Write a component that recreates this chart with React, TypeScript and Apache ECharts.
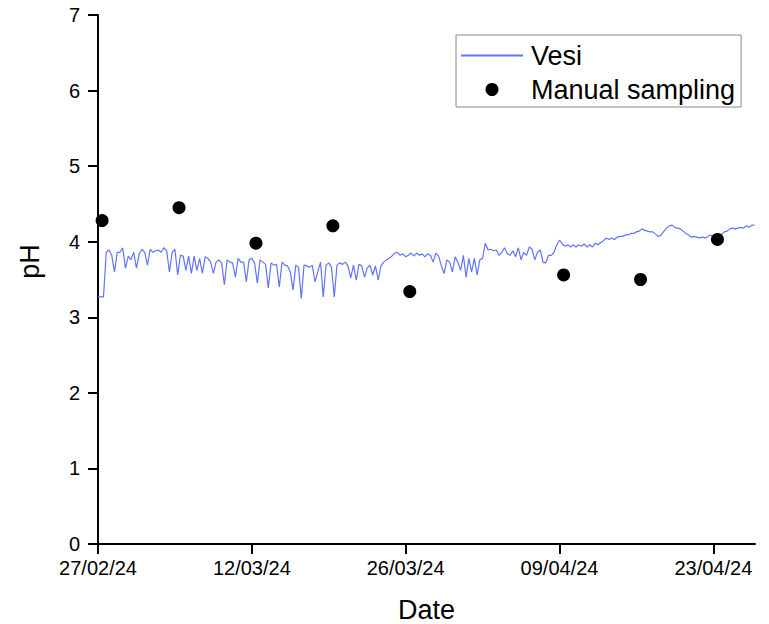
import React, { useEffect, useRef } from "react";
import * as echarts from "echarts";

// Continuous sensor series (pH), one reading every 6 hours from 27/02/24 00:00
const vesiStart = "2024-02-27T00:00:00Z";
const vesiStepHours = 6;
const vesiPH = [
  3.28, 3.27, 3.27, 3.86, 3.89, 3.82, 3.60, 3.86, 3.86, 3.92,
  3.65, 3.81, 3.76, 3.86, 3.65, 3.84, 3.90, 3.86, 3.69, 3.90,
  3.86, 3.88, 3.89, 3.86, 3.92, 3.88, 3.60, 3.86, 3.90, 3.56,
  3.82, 3.81, 3.62, 3.81, 3.58, 3.81, 3.62, 3.78, 3.58, 3.80,
  3.78, 3.73, 3.58, 3.73, 3.76, 3.72, 3.43, 3.76, 3.73, 3.72,
  3.53, 3.78, 3.73, 3.73, 3.47, 3.76, 3.78, 3.72, 3.45, 3.76,
  3.73, 3.70, 3.39, 3.72, 3.69, 3.70, 3.40, 3.73, 3.69, 3.68,
  3.60, 3.36, 3.69, 3.66, 3.25, 3.69, 3.68, 3.66, 3.69, 3.47,
  3.60, 3.73, 3.27, 3.69, 3.72, 3.66, 3.27, 3.69, 3.72, 3.70,
  3.73, 3.68, 3.52, 3.69, 3.49, 3.70, 3.68, 3.53, 3.65, 3.69,
  3.56, 3.68, 3.49, 3.68, 3.73, 3.76, 3.78, 3.81, 3.85, 3.86,
  3.82, 3.84, 3.80, 3.82, 3.85, 3.81, 3.85, 3.82, 3.84, 3.80,
  3.84, 3.82, 3.73, 3.85, 3.81, 3.68, 3.58, 3.76, 3.73, 3.60,
  3.80, 3.73, 3.62, 3.82, 3.53, 3.78, 3.60, 3.78, 3.56, 3.76,
  3.78, 3.98, 3.89, 3.90, 3.88, 3.89, 3.82, 3.86, 3.92, 3.84,
  3.82, 3.88, 3.80, 3.92, 3.76, 3.86, 3.82, 3.93, 3.90, 3.76,
  3.86, 3.89, 3.73, 3.72, 3.82, 3.82, 3.86, 3.96, 4.02, 3.97,
  3.94, 3.96, 3.93, 3.96, 3.93, 3.96, 3.94, 3.97, 3.93, 3.96,
  3.93, 3.98, 3.96, 3.99, 4.01, 4.05, 4.03, 4.05, 4.03, 4.06,
  4.07, 4.07, 4.09, 4.09, 4.11, 4.11, 4.13, 4.14, 4.17, 4.15,
  4.14, 4.13, 4.13, 4.10, 4.07, 4.09, 4.14, 4.18, 4.21, 4.22,
  4.19, 4.18, 4.17, 4.14, 4.11, 4.09, 4.06, 4.07, 4.06, 4.05,
  4.06, 4.05, 4.07, 4.09, 4.06, 4.06, 4.07, 4.10, 4.13, 4.14,
  4.17, 4.18, 4.17, 4.18, 4.19, 4.18, 4.21, 4.19, 4.22, 4.22,
];

// Manual sampling
const sampleDates = [
  "2024-02-27T09:00:00Z",
  "2024-03-05T09:00:00Z",
  "2024-03-12T09:00:00Z",
  "2024-03-19T09:00:00Z",
  "2024-03-26T09:00:00Z",
  "2024-04-09T09:00:00Z",
  "2024-04-16T09:00:00Z",
  "2024-04-23T09:00:00Z",
];
const samplePH = [4.28, 4.45, 3.98, 4.21, 3.34, 3.56, 3.5, 4.03];

// Axes
const xTickDates = ["2024-02-27T00:00:00Z", "2024-03-12T00:00:00Z", "2024-03-26T00:00:00Z", "2024-04-09T00:00:00Z", "2024-04-23T00:00:00Z"];
const xMinDate = "2024-02-27T00:00:00Z";
const xMaxDate = "2024-04-26T19:00:00Z";
const yTicks = [0, 1, 2, 3, 4, 5, 6, 7];

const FONT = "'Liberation Sans', Arial, sans-serif";
const BLUE = "#6275f5";

function fmtDate(v: number) {
  const d = new Date(v);
  const dd = String(d.getUTCDate()).padStart(2, "0");
  const mm = String(d.getUTCMonth() + 1).padStart(2, "0");
  const yy = String(d.getUTCFullYear() % 100).padStart(2, "0");
  return `${dd}/${mm}/${yy}`;
}

export default function App() {
  const ref = useRef<HTMLDivElement>(null);
  useEffect(() => {
    if (!ref.current) return;
    const chart = echarts.init(ref.current, undefined, { renderer: "svg" });
    const t0 = Date.parse(vesiStart);
    const step = vesiStepHours * 3600 * 1000;
    const lineData = vesiPH.map((v, i) => [t0 + i * step, v]);
    const scatterData = sampleDates.map((d, i) => [Date.parse(d), samplePH[i]]);
    const tickVals = xTickDates.map((d) => Date.parse(d));
    chart.setOption({
      animation: false,
      backgroundColor: "#fff",
      textStyle: { fontFamily: FONT, color: "#000" },
      grid: { left: 98, right: 14, top: 15, bottom: 80, containLabel: false, outerBoundsMode: "none" },
      legend: {
        orient: "vertical",
        left: 456,
        top: 35,
        padding: [7, 6, 4, 4],
        itemWidth: 62,
        itemHeight: 13,
        itemGap: 7,
        borderColor: "#888",
        borderWidth: 1,
        textStyle: { fontSize: 27, color: "#000", fontFamily: FONT, padding: [0, 0, 0, 3] },
        data: [
          { name: "Vesi", itemStyle: { opacity: 0, color: "transparent", borderWidth: 0 }, lineStyle: { width: 2, color: BLUE } },
          { name: "Manual sampling", icon: "circle", itemStyle: { color: "#000", opacity: 1 } },
        ],
      },
      xAxis: {
        type: "value",
        min: Date.parse(xMinDate),
        max: Date.parse(xMaxDate),
        name: "Date",
        nameLocation: "middle",
        nameGap: 52,
        nameTextStyle: { fontSize: 27, color: "#000", fontFamily: FONT },
        axisLine: { onZero: false, lineStyle: { color: "#000", width: 2 } },
        axisTick: { show: true, length: 10, lineStyle: { color: "#000", width: 2 }, customValues: tickVals },
        axisLabel: { customValues: tickVals, formatter: (v: number) => fmtDate(v), fontSize: 20, color: "#000", margin: 14, fontFamily: FONT },
        splitLine: { show: false },
      },
      yAxis: {
        type: "value",
        min: yTicks[0],
        max: yTicks[yTicks.length - 1],
        interval: 1,
        name: "pH",
        nameLocation: "middle",
        nameGap: 55,
        nameTextStyle: { fontSize: 27, color: "#000", fontFamily: FONT, padding: [0, 0, 0, 36] },
        axisLine: { show: true, lineStyle: { color: "#000", width: 2 } },
        axisTick: { show: true, length: 10, lineStyle: { color: "#000", width: 2 } },
        axisLabel: { fontSize: 20, color: "#000", margin: 18, fontFamily: FONT },
        splitLine: { show: false },
      },
      series: [
        {
          name: "Vesi",
          type: "line",
          data: lineData,
          symbol: "none",
          showSymbol: false,
          lineStyle: { color: BLUE, width: 1.2 },
          itemStyle: { color: BLUE },
          z: 2,
        },
        {
          name: "Manual sampling",
          type: "scatter",
          data: scatterData,
          symbol: "circle",
          symbolSize: 13,
          itemStyle: { color: "#000", opacity: 1 },
          z: 3,
        },
      ],
    });
    return () => chart.dispose();
  }, []);
  return <div ref={ref} style={{ position: "fixed", left: 0, top: 0, width: 769, height: 624 }} />;
}
